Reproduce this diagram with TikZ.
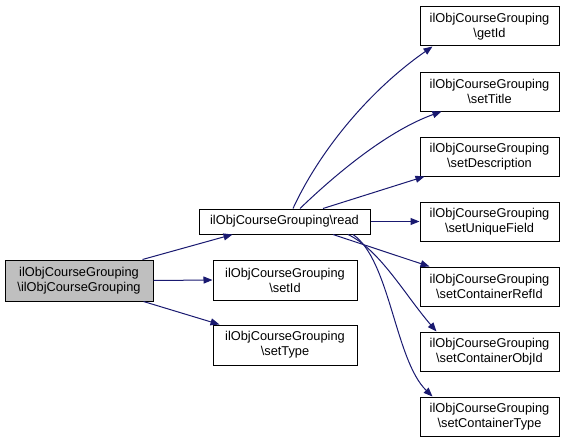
\documentclass[tikz,border=0pt]{standalone}
\usepackage{fontspec}
\setmainfont{Liberation Sans}
\usepackage{xcolor}
\usepackage{tikz}
\usetikzlibrary{arrows.meta}

\definecolor{edgeblue}{HTML}{191970}
\definecolor{maingrey}{HTML}{BFBFBF}

\tikzset{
  fnbox/.style={draw, black, line width=1pt, rectangle, align=center, inner sep=0pt,
    font=\fontsize{12.8}{15}\selectfont},
  rightbox/.style={fnbox, minimum width=139pt, minimum height=39pt},
  call/.style={edgeblue, line width=1pt, -{Triangle[length=9pt,width=7pt]}}
}

\begin{document}
\begin{tikzpicture}[x=1pt, y=-1pt]
                \useasboundingbox (0,0) rectangle (567,444);
                \node[fnbox, fill=maingrey, minimum width=148pt, minimum height=41pt] (Main) at (79,280.5) {ilObjCourseGrouping\\\textbackslash ilObjCourseGrouping};
                \node[fnbox, minimum width=171pt, minimum height=25pt] (Read) at (284.5,221.5) {ilObjCourseGrouping\textbackslash read};
                \node[fnbox, minimum width=144pt, minimum height=40pt] (SetId) at (285,280) {ilObjCourseGrouping\\\textbackslash setId};
                \node[fnbox, minimum width=144pt, minimum height=40pt] (SetType) at (285,345) {ilObjCourseGrouping\\\textbackslash setType};
                \node[rightbox] (GetId) at (489.5,26.5) {ilObjCourseGrouping\\\textbackslash getId};
                \node[rightbox] (SetTitle) at (489.5,91.5) {ilObjCourseGrouping\\\textbackslash setTitle};
                \node[rightbox] (SetDescription) at (489.5,156.5) {ilObjCourseGrouping\\\textbackslash setDescription};
                \node[rightbox] (SetUniqueField) at (489.5,221.5) {ilObjCourseGrouping\\\textbackslash setUniqueField};
                \node[rightbox] (SetContainerRefId) at (489.5,286.5) {ilObjCourseGrouping\\\textbackslash setContainerRefId};
                \node[rightbox] (SetContainerObjId) at (489.5,351.5) {ilObjCourseGrouping\\\textbackslash setContainerObjId};
                \node[rightbox] (SetContainerType) at (489.5,416.5) {ilObjCourseGrouping\\\textbackslash setContainerType};
                % calls from the constructor
                \draw[call] ([xshift=-11pt]Main.north east) -- ([xshift=34pt]Read.south west);
                \draw[call] (Main.east) -- (SetId.west);
                \draw[call] ([xshift=-10pt]Main.south east) -- ([xshift=7pt]SetType.north west);
                % calls from read
                \draw[call] ([xshift=8.5pt]Read.north) .. controls (320,150) and (370,90) .. ([xshift=13pt]GetId.south west);
                \draw[call] ([xshift=15.5pt]Read.north) .. controls (340,170) and (390,130) .. ([xshift=22pt]SetTitle.south west);
                \draw[call] ([xshift=38.5pt]Read.north) -- ([xshift=5pt]SetDescription.south west);
                \draw[call] (Read.east) -- (SetUniqueField.west);
                \draw[call] ([xshift=48.5pt]Read.south) -- ([xshift=10pt]SetContainerRefId.north west);
                \draw[call] ([xshift=63.5pt]Read.south) .. controls (380,250) and (405,295) .. ([xshift=17pt]SetContainerObjId.north west);
                \draw[call] ([xshift=68.5pt]Read.south) .. controls (390,260) and (395,360) .. ([xshift=13pt]SetContainerType.north west);
            \end{tikzpicture}
\end{document}
